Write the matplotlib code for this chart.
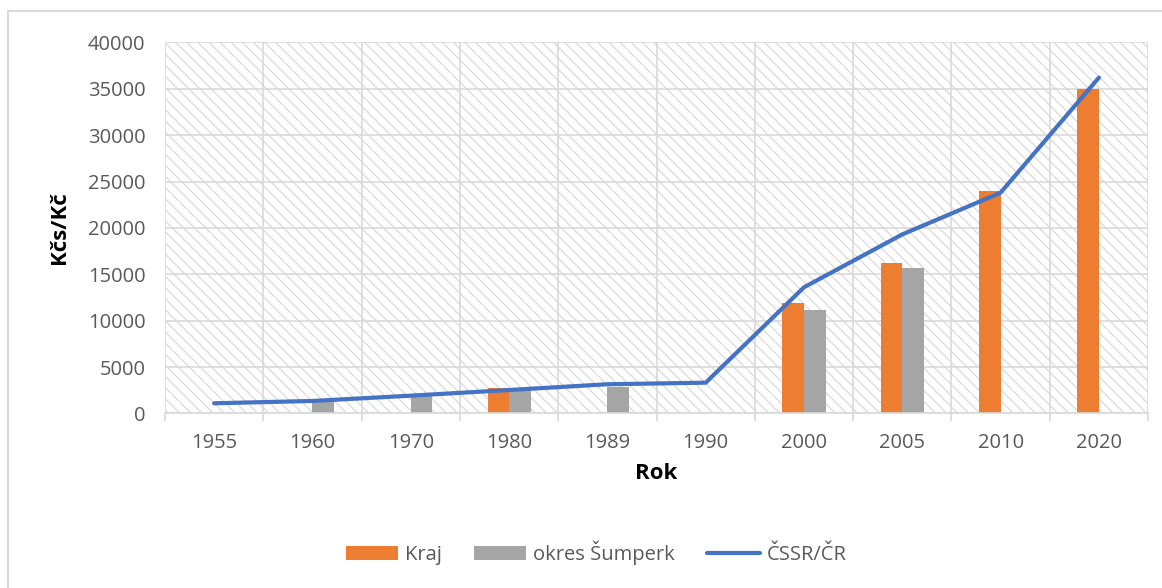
import numpy as np
import matplotlib
matplotlib.use('Agg')
import matplotlib.pyplot as plt
from matplotlib.patches import Rectangle
from matplotlib.lines import Line2D

plt.rcParams['font.family'] = ['Open Sans', 'DejaVu Sans']
plt.rcParams['hatch.linewidth'] = 0.9

years = ['1955', '1960', '1970', '1980', '1989', '1990', '2000', '2005', '2010', '2020']
kraj = [np.nan, np.nan, np.nan, 2700, np.nan, np.nan, 11900, 16200, 24000, 35000]
sumperk = [np.nan, 1300, 1900, 2600, 2900, np.nan, 11200, 15700, np.nan, np.nan]
cssr = [1100, 1350, 1920, 2530, 3150, 3320, 13600, 19300, 23800, 36200]

ORANGE = '#ED7D31'
GREY = '#A5A5A5'
BLUE = '#4472C4'
GRID = '#D9D9D9'
TEXT = '#595959'

fig = plt.figure(figsize=(11.62, 5.88), dpi=100)
ax = fig.add_axes([0.142, 0.2968, 0.846, 0.6312])

x = np.arange(len(years))
w = 0.219

# hatched plot area background
bg = Rectangle((0, 0), 1, 1, transform=ax.transAxes, facecolor='white',
               edgecolor='#DADADA', hatch='\\\\\\', linewidth=0, zorder=0.1)
ax.add_patch(bg)

ax.bar(x - w / 2, kraj, w, color=ORANGE, label='Kraj', zorder=2)
ax.bar(x + w / 2, sumperk, w, color=GREY, label='okres Šumperk', zorder=2)
ax.plot(x, cssr, color=BLUE, linewidth=3, label='ČSSR/ČR', zorder=3,
        solid_capstyle='round')

ax.set_xlim(-0.5, len(years) - 0.5)
ax.set_ylim(0, 40000)
ax.set_yticks(range(0, 40001, 5000))
ax.set_xticks(x)
ax.set_xticklabels(years)
ax.set_xticks(np.arange(-0.5, len(years), 1), minor=True)

ax.set_axisbelow(True)
ax.grid(axis='y', color=GRID, linewidth=1.2, zorder=0.5)
ax.grid(axis='x', which='minor', color=GRID, linewidth=1.2, zorder=0.5)
ax.grid(axis='x', which='major', visible=False)

for s in ['top', 'right', 'left']:
    ax.spines[s].set_visible(False)
ax.spines['bottom'].set_color(GRID)
ax.spines['bottom'].set_linewidth(1.2)

ax.tick_params(axis='x', which='major', length=0, pad=14, labelsize=14.5, labelcolor=TEXT)
ax.tick_params(axis='x', which='minor', length=6, color=GRID, width=1.2)
ax.tick_params(axis='y', length=0, pad=14, labelsize=14.5, labelcolor=TEXT)

ax.set_xlabel('Rok', fontsize=16, fontweight='bold', labelpad=7)
ax.set_ylabel('Kčs/Kč', fontsize=16, fontweight='bold', labelpad=13)

handles, labels = ax.get_legend_handles_labels()
order = [labels.index(l) for l in ['Kraj', 'okres Šumperk', 'ČSSR/ČR']]
fig.legend([handles[i] for i in order], [labels[i] for i in order],
           loc='center', bbox_to_anchor=(0.513, 0.06), ncol=3, frameon=False,
           fontsize=14.5, labelcolor=TEXT, handlelength=2.6, handletextpad=0.35,
           columnspacing=1.6)

# outer chart border
fig.add_artist(Line2D([8 / 1162, 8 / 1162], [0, 1 - 11 / 588], color=GRID, linewidth=1.5))
fig.add_artist(Line2D([8 / 1162, 1], [1 - 11 / 588, 1 - 11 / 588], color=GRID, linewidth=1.5))

fig.savefig('out.png', dpi=100)
